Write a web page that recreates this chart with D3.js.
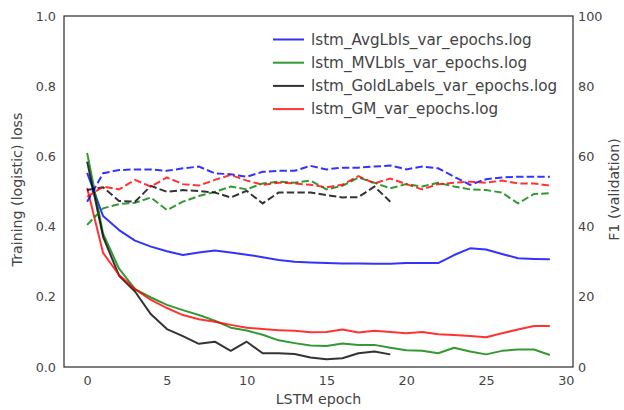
<!DOCTYPE html>
<html><head><meta charset="utf-8">
<script src="https://cdn.jsdelivr.net/npm/d3@7"></script>
<style>body{margin:0;background:#fff}svg{display:block}text{font-family:"DejaVu Sans",sans-serif;fill:#444}</style>
</head><body><svg id="c" width="624" height="410"></svg>
<script>
const epochs = d3.range(30);
const goldEpochs = d3.range(20);
const seriesNames = ["lstm_AvgLbls_var_epochs.log","lstm_MVLbls_var_epochs.log","lstm_GoldLabels_var_epochs.log","lstm_GM_var_epochs.log"];
const colors = ["#0000ff","#008000","#000000","#ff0000"];
const lossAvg = [0.553,0.43,0.39,0.36,0.343,0.33,0.319,0.326,0.332,0.326,0.32,0.313,0.305,0.3,0.298,0.296,0.295,0.295,0.294,0.294,0.296,0.296,0.296,0.319,0.338,0.335,0.322,0.31,0.308,0.307];
const lossMV = [0.61,0.38,0.28,0.222,0.198,0.177,0.162,0.148,0.132,0.112,0.104,0.092,0.076,0.068,0.061,0.06,0.067,0.063,0.063,0.055,0.048,0.046,0.039,0.055,0.044,0.036,0.046,0.05,0.05,0.034];
const lossGold = [0.585,0.371,0.26,0.215,0.15,0.108,0.088,0.066,0.072,0.046,0.072,0.039,0.039,0.037,0.027,0.022,0.025,0.039,0.044,0.036];
const lossGM = [0.51,0.325,0.262,0.222,0.191,0.168,0.148,0.136,0.129,0.12,0.112,0.108,0.105,0.103,0.099,0.1,0.107,0.098,0.103,0.1,0.096,0.1,0.093,0.091,0.088,0.085,0.096,0.107,0.117,0.117];
const f1Avg = [47.1,55.2,56.1,56.3,56.3,55.9,56.6,57.1,55.2,54.9,54.2,55.6,55.9,55.9,57.3,56.3,56.8,56.8,57.1,57.4,56.3,57.1,56.6,54.2,51.9,53.5,54.0,54.2,54.2,54.2];
const f1MV = [40.5,45.2,46.4,46.8,48.3,44.7,47.1,48.7,49.9,51.4,50.6,52.3,52.8,52.5,53.1,50.6,51.6,54.0,52.5,50.9,52.1,51.4,52.5,51.4,50.6,50.4,49.7,46.6,49.3,49.5];
const f1Gold = [50.4,51.2,47.3,47.1,51.6,49.9,50.4,50.1,49.7,48.3,50.2,46.6,49.7,49.7,49.7,49.0,48.3,48.4,51.4,47.1];
const f1GM = [48.5,51.4,50.6,53.3,51.4,54.0,52.1,51.7,53.3,54.7,53.1,51.9,52.5,52.3,51.9,51.2,51.9,54.4,52.3,53.7,52.1,50.6,52.1,52.5,52.8,52.5,53.1,52.3,52.3,51.7];
const xTicks = [0,5,10,15,20,25,30];
const yTicks = [0,0.2,0.4,0.6,0.8,1.0];
const y2Ticks = [0,20,40,60,80,100];

const svg = d3.select("#c");
const L=64,R=573,T=16,B=367;
const x = d3.scaleLinear().domain([-1.45,30.45]).range([L,R]);
const y = d3.scaleLinear().domain([0,1]).range([B,T]);
const y2 = d3.scaleLinear().domain([0,100]).range([B,T]);

svg.append("clipPath").attr("id","cp").append("rect").attr("x",L).attr("y",T).attr("width",R-L).attr("height",B-T);
const g = svg.append("g").attr("clip-path","url(#cp)");

const lossSets = [[epochs,lossAvg],[epochs,lossMV],[goldEpochs,lossGold],[epochs,lossGM]];
const f1Sets = [[epochs,f1Avg],[epochs,f1MV],[goldEpochs,f1Gold],[epochs,f1GM]];

lossSets.forEach(([xs,vs],i)=>{
  const line = d3.line().x((d,j)=>x(xs[j])).y(d=>y(d));
  g.append("path").attr("d",line(vs)).attr("fill","none").attr("stroke",colors[i]).attr("stroke-width",2).attr("stroke-opacity",0.8).attr("stroke-linejoin","round");
});
f1Sets.forEach(([xs,vs],i)=>{
  const line = d3.line().x((d,j)=>x(xs[j])).y(d=>y2(d));
  g.append("path").attr("d",line(vs)).attr("fill","none").attr("stroke",colors[i]).attr("stroke-width",2).attr("stroke-opacity",0.8).attr("stroke-dasharray","7.4,3.2");
});

svg.append("rect").attr("x",L).attr("y",T).attr("width",R-L).attr("height",B-T).attr("fill","none").attr("stroke","#333").attr("stroke-width",1.25);

const fs = 12.8;
const xa = d3.axisBottom(x).tickValues(xTicks).tickSize(0).tickPadding(9).tickFormat(d3.format("d"));
const xg = svg.append("g").attr("transform",`translate(0,${B})`).call(xa);
const ya = d3.axisLeft(y).tickValues(yTicks).tickSize(0).tickPadding(8).tickFormat(d3.format(".1f"));
const yg = svg.append("g").attr("transform",`translate(${L},0)`).call(ya);
const y2a = d3.axisRight(y2).tickValues(y2Ticks).tickSize(0).tickPadding(5).tickFormat(d3.format("d"));
const y2g = svg.append("g").attr("transform",`translate(${R},0)`).call(y2a);
[xg,yg,y2g].forEach(a=>{a.select(".domain").remove();a.selectAll("text").attr("font-size",fs).attr("font-family","DejaVu Sans").attr("fill","#444");});

const lfs = 14.2;
svg.append("text").attr("x",(L+R)/2).attr("y",404).attr("text-anchor","middle").attr("font-size",lfs).text("LSTM epoch");
svg.append("text").attr("transform",`translate(22,${(T+B)/2 - 2}) rotate(-90)`).attr("text-anchor","middle").attr("font-size",lfs).text("Training (logistic) loss");
svg.append("text").attr("transform",`translate(619,${(T+B)/2 - 2}) rotate(-90)`).attr("text-anchor","middle").attr("font-size",lfs).text("F1 (validation)");

const lg = svg.append("g");
seriesNames.forEach((n,i)=>{
  const yy = 39.5 + i*23.2;
  lg.append("line").attr("x1",273).attr("x2",304).attr("y1",yy).attr("y2",yy).attr("stroke",colors[i]).attr("stroke-width",2).attr("stroke-opacity",0.8);
  lg.append("text").attr("x",311).attr("y",yy+5.3).attr("font-size",15.2).text(n);
});
</script></body></html>
